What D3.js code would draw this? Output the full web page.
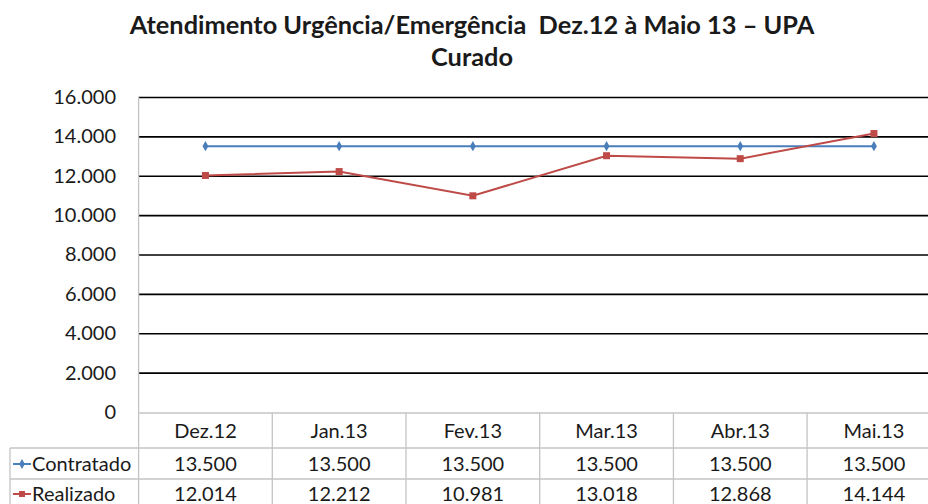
<!DOCTYPE html>
<html><head><meta charset="utf-8">
<script src="https://cdn.jsdelivr.net/npm/d3@7"></script>
<style>
html,body{margin:0;padding:0;background:#fff;overflow:hidden}
text{font-family:Lato,"Open Sans",sans-serif;fill:#1a1a1a}
</style></head><body>
<svg id="c" width="928" height="504"></svg>
<script>
const categories = ["Dez.12","Jan.13","Fev.13","Mar.13","Abr.13","Mai.13"];
const contratado = [13500,13500,13500,13500,13500,13500];
const realizado  = [12014,12212,10981,13018,12868,14144];
const yTicks = [0,2000,4000,6000,8000,10000,12000,14000,16000];
const seriesNames = ["Contratado","Realizado"];
const titleLines = ["Atendimento Urgência/Emergência  Dez.12 à Maio 13 – UPA","Curado"];

const svg = d3.select("#c");
const loc = d3.formatLocale({decimal:",",thousands:".",grouping:[3],currency:["",""]});
const fmt = loc.format(",d");

const x = d3.scaleBand().domain(categories).range([138.6, 940.8]).padding(0);
const y = d3.scaleLinear().domain([0,16000]).range([412, 97]);

// title
const t = svg.append("g");
const tl = t.selectAll("text").data(titleLines).join("text")
  .attr("x", 472).attr("y",(d,i)=>i===0?34:66)
  .attr("text-anchor","middle").attr("font-weight","bold").attr("font-size",22)
  .style("white-space","pre")
  .text(d=>d);
{ const n = tl.nodes()[0]; const w = n.getComputedTextLength(); const fs = 22*685/w; tl.attr("font-size",fs); }

// gridlines
const grid = svg.append("g").attr("transform","translate(138.6,0)")
  .call(d3.axisLeft(y).tickValues(yTicks.filter(v=>v>0)).tickSize(-(940.8-138.6)).tickFormat(""));
grid.select(".domain").remove();
grid.selectAll("line").attr("stroke","#000").attr("stroke-width",1.6);

// y labels
const ya = svg.append("g").attr("transform","translate(116,0)")
  .call(d3.axisLeft(y).tickValues(yTicks).tickSize(0).tickPadding(0).tickFormat(fmt));
ya.select(".domain").remove();
ya.selectAll("text").attr("font-size",20).attr("fill","#1a1a1a").attr("font-family","Lato,sans-serif").attr("text-anchor","end");

// table lines
const tc = "#c4c4c4";
const tg = svg.append("g").attr("stroke",tc).attr("stroke-width",1.3);
tg.append("line").attr("x1",138.6).attr("x2",941).attr("y1",413).attr("y2",413);
[448,479].forEach(v=>tg.append("line").attr("x1",10).attr("x2",941).attr("y1",v).attr("y2",v));
tg.append("line").attr("x1",10).attr("x2",10).attr("y1",448).attr("y2",504);
tg.append("line").attr("x1",138.6).attr("x2",138.6).attr("y1",97).attr("y2",504);
categories.slice(1).forEach(c=>tg.append("line").attr("x1",x(c)).attr("x2",x(c)).attr("y1",413).attr("y2",504));

// table text
const cx = c => x(c)+x.bandwidth()/2;
svg.append("g").selectAll("text").data(categories).join("text")
  .attr("x",cx).attr("y",431).attr("dy","0.36em").attr("text-anchor","middle").attr("font-size",20).text(d=>d);
[contratado, realizado].forEach((arr,ri)=>{
  svg.append("g").selectAll("text").data(arr).join("text")
    .attr("x",(d,i)=>cx(categories[i])).attr("y",ri===0?464:494).attr("dy","0.36em")
    .attr("text-anchor","middle").attr("font-size",20).text(d=>fmt(d));
});

const colors = ["#4a7ebb","#be4b48"];
// legend in table
seriesNames.forEach((n,i)=>{
  const yy = i===0?464:494;
  const g = svg.append("g");
  g.append("line").attr("x1",13).attr("x2",31).attr("y1",yy).attr("y2",yy).attr("stroke",colors[i]).attr("stroke-width",2);
  if(i===0) g.append("path").attr("d",d3.symbol(d3.symbolDiamond,28)()).attr("transform",`translate(22,${yy})`).attr("fill",colors[i]);
  else g.append("rect").attr("x",19).attr("y",yy-3).attr("width",6).attr("height",6).attr("fill",colors[i]);
  g.append("text").attr("x",32).attr("y",yy).attr("dy","0.36em").attr("font-size",20).text(n);
});

// lines
const line = d3.line().x((d,i)=>cx(categories[i])).y(d=>y(d));
svg.append("path").datum(contratado).attr("d",line).attr("fill","none").attr("stroke",colors[0]).attr("stroke-width",2);
svg.append("path").datum(realizado).attr("d",line).attr("fill","none").attr("stroke",colors[1]).attr("stroke-width",2);
svg.append("g").selectAll("path").data(contratado).join("path")
  .attr("d",d3.symbol(d3.symbolDiamond,30)()).attr("transform",(d,i)=>`translate(${cx(categories[i])},${y(d)})`).attr("fill",colors[0]);
svg.append("g").selectAll("rect").data(realizado).join("rect")
  .attr("x",(d,i)=>cx(categories[i])-3.5).attr("y",d=>y(d)-3.5).attr("width",7).attr("height",7).attr("fill",colors[1]);
</script></body></html>
